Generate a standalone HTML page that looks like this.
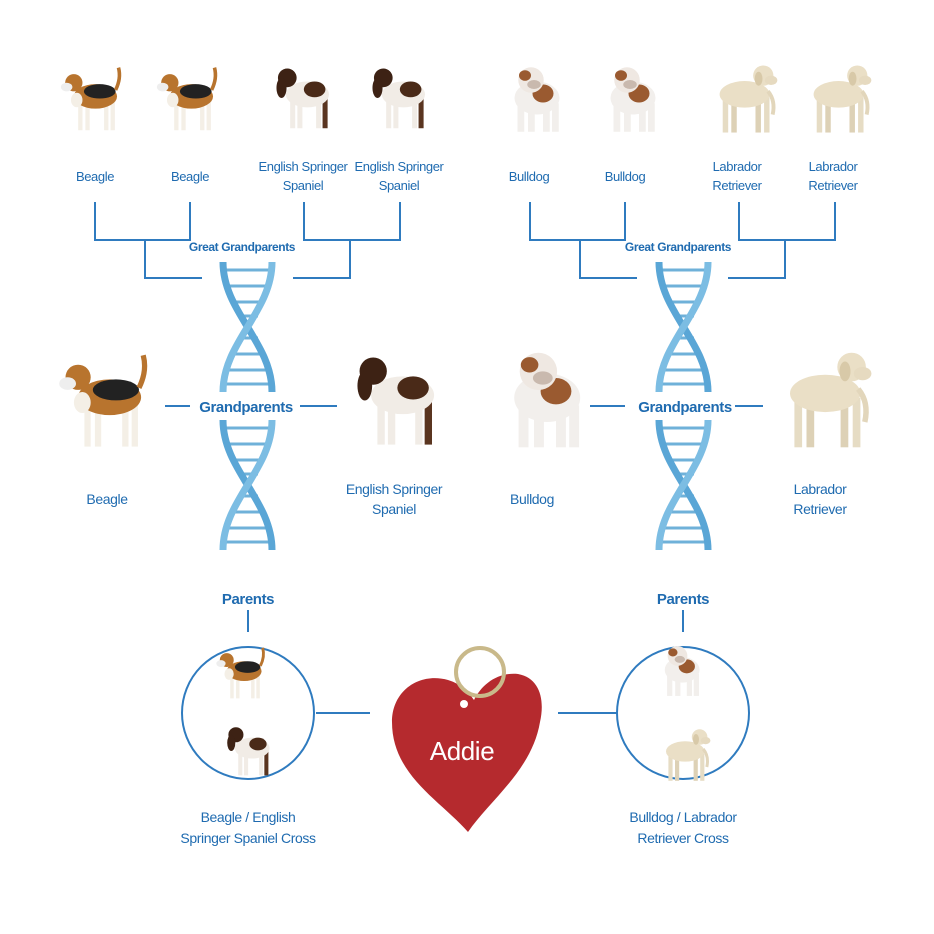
<!DOCTYPE html>
<html><head><style>
html,body{margin:0;padding:0;background:#fff}
svg{display:block}
text{font-family:"Liberation Sans",sans-serif;fill:#1f6bb0;letter-spacing:-0.4px}
</style></head><body>
<svg width="934" height="934" viewBox="0 0 934 934" xmlns="http://www.w3.org/2000/svg">
<defs>
<g id="beagle">
 <rect x="28" y="50" width="6" height="42" fill="#f4efe6"/><rect x="38" y="52" width="6" height="40" fill="#f4efe6"/>
 <rect x="64" y="52" width="6" height="40" fill="#f4efe6"/><rect x="73" y="50" width="6" height="42" fill="#f4efe6"/>
 <ellipse cx="52" cy="45" rx="30" ry="17" fill="#b8742e"/>
 <ellipse cx="58" cy="38" rx="22" ry="10" fill="#222"/>
 <path d="M80 36 Q88 20 84 5" stroke="#b8742e" stroke-width="5" fill="none"/>
 <circle cx="22" cy="26" r="12" fill="#b8742e"/><ellipse cx="12" cy="32" rx="8" ry="6" fill="#eee"/>
 <ellipse cx="26" cy="50" rx="8" ry="10" fill="#f4efe6"/>
</g>
<g id="springer">
 <rect x="28" y="50" width="7" height="42" fill="#f1ece6"/><rect x="38" y="52" width="7" height="40" fill="#f1ece6"/>
 <rect x="64" y="52" width="7" height="40" fill="#f1ece6"/><rect x="73" y="50" width="7" height="42" fill="#5a3520"/>
 <ellipse cx="52" cy="45" rx="30" ry="18" fill="#f1ece6"/>
 <ellipse cx="62" cy="38" rx="15" ry="11" fill="#4a2a18"/>
 <circle cx="24" cy="22" r="13" fill="#3d2214"/><ellipse cx="16" cy="36" rx="7" ry="14" fill="#3d2214"/>
</g>
<g id="bulldog">
 <rect x="26" y="55" width="9" height="38" fill="#f2efec"/><rect x="40" y="57" width="9" height="36" fill="#f2efec"/>
 <rect x="60" y="57" width="9" height="36" fill="#f2efec"/><rect x="72" y="55" width="9" height="38" fill="#f2efec"/>
 <ellipse cx="52" cy="48" rx="30" ry="22" fill="#f2efec"/>
 <ellipse cx="60" cy="42" rx="14" ry="12" fill="#9a5a30"/>
 <circle cx="44" cy="24" r="17" fill="#efe8e2"/><ellipse cx="36" cy="18" rx="8" ry="7" fill="#9a5a30"/>
 <ellipse cx="48" cy="30" rx="9" ry="6" fill="#c9b9ae"/>
</g>
<g id="lab">
 <rect x="24" y="48" width="7" height="45" fill="#e6dcc4"/><rect x="35" y="50" width="7" height="43" fill="#ddd1b6"/>
 <rect x="66" y="50" width="7" height="43" fill="#ddd1b6"/><rect x="77" y="48" width="7" height="45" fill="#e6dcc4"/>
 <ellipse cx="52" cy="44" rx="32" ry="17" fill="#eadfc6"/>
 <path d="M82 40 Q92 52 88 70" stroke="#e2d6bb" stroke-width="5" fill="none"/>
 <circle cx="76" cy="20" r="13" fill="#eadfc6"/><ellipse cx="86" cy="26" rx="8" ry="6" fill="#e6dac0"/>
 <ellipse cx="70" cy="24" rx="5" ry="9" fill="#d8c9a8"/>
</g>
<g id="dna">
 <g stroke="#6fb1d9" stroke-width="3">
  <line x1="6" y1="8" x2="50" y2="8"/><line x1="8" y1="24" x2="48" y2="24"/><line x1="12" y1="40" x2="44" y2="40"/>
  <line x1="18" y1="54" x2="38" y2="54"/><line x1="20" y1="76" x2="38" y2="76"/><line x1="12" y1="92" x2="44" y2="92"/>
  <line x1="8" y1="108" x2="48" y2="108"/><line x1="6" y1="122" x2="50" y2="122"/>
 </g>
 <path d="M3 0 C3 50 52 80 52 130" stroke="#5aa6d6" stroke-width="7" fill="none"/>
 <path d="M52 0 C52 50 3 80 3 130" stroke="#7cbde3" stroke-width="7" fill="none"/>
</g>
</defs>

<g stroke="#2f7bbf" stroke-width="2" fill="none">
 <path d="M95 202V240H190V202M145 240V278H202M304 202V240H400V202M350 240V278H293"/>
 <path d="M530 202V240H625V202M580 240V278H637M739 202V240H835V202M785 240V278H728"/>
 <path d="M165 406H190M300 406H337M590 406H625M735 406H763"/>
 <path d="M248 610V632M683 610V632M316 713H370M558 713H618"/>
 <circle cx="248" cy="713" r="66"/><circle cx="683" cy="713" r="66"/>
</g>

<use href="#dna" transform="translate(220,262)"/>
<use href="#dna" transform="translate(220,420)"/>
<use href="#dna" transform="translate(656,262)"/>
<use href="#dna" transform="translate(656,420)"/>

<use href="#beagle" transform="translate(58,64) scale(0.72)"/>
<use href="#beagle" transform="translate(154,64) scale(0.72)"/>
<use href="#springer" transform="translate(270,62) scale(0.72)"/>
<use href="#springer" transform="translate(366,62) scale(0.72)"/>
<use href="#bulldog" transform="translate(498,62) scale(0.75)"/>
<use href="#bulldog" transform="translate(594,62) scale(0.75)"/>
<use href="#lab" transform="translate(704,60) scale(0.78)"/>
<use href="#lab" transform="translate(798,60) scale(0.78)"/>

<use href="#beagle" transform="translate(55,350) scale(1.05)"/>
<use href="#springer" transform="translate(348,348) scale(1.05)"/>
<use href="#bulldog" transform="translate(490,345) scale(1.1)"/>
<use href="#lab" transform="translate(768,345) scale(1.1)"/>

<use href="#beagle" transform="translate(214,645) scale(0.58)"/>
<use href="#springer" transform="translate(222,722) scale(0.58)"/>
<use href="#bulldog" transform="translate(652,642) scale(0.58)"/>
<use href="#lab" transform="translate(654,725) scale(0.6)"/>

<g font-size="13" text-anchor="middle">
 <text x="95" y="181">Beagle</text><text x="190" y="181">Beagle</text>
 <text x="303" y="171">English Springer</text><text x="303" y="190">Spaniel</text>
 <text x="399" y="171">English Springer</text><text x="399" y="190">Spaniel</text>
 <text x="529" y="181">Bulldog</text><text x="625" y="181">Bulldog</text>
 <text x="737" y="171">Labrador</text><text x="737" y="190">Retriever</text>
 <text x="833" y="171">Labrador</text><text x="833" y="190">Retriever</text>
 <text x="107" y="504" font-size="14">Beagle</text>
 <text x="394" y="494" font-size="14">English Springer</text><text x="394" y="514" font-size="14">Spaniel</text>
 <text x="532" y="504" font-size="14">Bulldog</text>
 <text x="820" y="494" font-size="14">Labrador</text><text x="820" y="514" font-size="14">Retriever</text>
 <text x="248" y="822" font-size="14">Beagle / English</text>
 <text x="248" y="843" font-size="14">Springer Spaniel Cross</text>
 <text x="683" y="822" font-size="14">Bulldog / Labrador</text>
 <text x="683" y="843" font-size="14">Retriever Cross</text>
</g>
<g text-anchor="middle" font-weight="bold">
 <text x="242" y="251" font-size="12">Great Grandparents</text>
 <text x="678" y="251" font-size="12">Great Grandparents</text>
 <text x="246" y="412" font-size="15">Grandparents</text>
 <text x="685" y="412" font-size="15">Grandparents</text>
 <text x="248" y="604" font-size="15">Parents</text>
 <text x="683" y="604" font-size="15">Parents</text>
</g>

<path d="M468 832 C440 800 392 775 392 722 C392 690 420 672 448 680 C462 684 470 694 474 700 C482 684 498 672 518 674 C540 678 545 700 540 722 C532 770 490 800 468 832 Z" fill="#b52a2e"/>
<circle cx="480" cy="672" r="24" fill="none" stroke="#c9b98a" stroke-width="4"/>
<circle cx="464" cy="704" r="4" fill="#fff"/>
<text x="462" y="760" font-size="26" text-anchor="middle" style="fill:#fff">Addie</text>
</svg>
</body></html>
